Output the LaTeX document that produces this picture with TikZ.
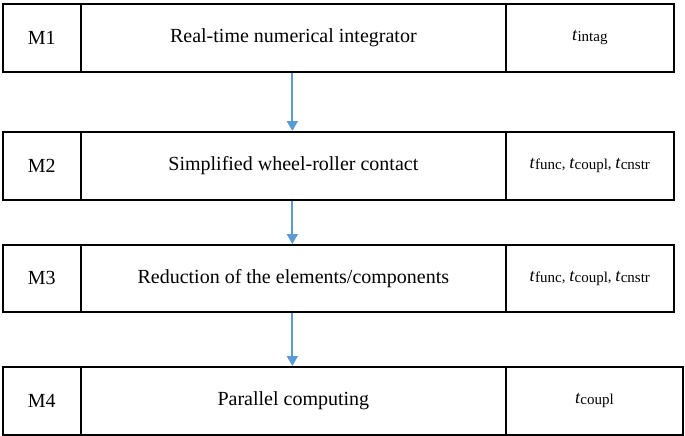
\documentclass[tikz,border=0pt]{standalone}
\usepackage{fontspec}
\setmainfont{Liberation Serif}
\usetikzlibrary{arrows.meta}
\definecolor{arrowblue}{RGB}{91,155,213}
\newcommand{\tsub}[1]{{\fontsize{18}{20}\selectfont\textit{t}}{\fontsize{15}{17}\selectfont\raisebox{-1pt}{#1}}}
\begin{document}
\begin{tikzpicture}[x=1pt,y=-1pt,
  cell/.style={draw=black, line width=1.7pt, anchor=north west, inner sep=0pt, font=\fontsize{20}{22}\selectfont},
  tcell/.style={cell, font=\fontsize{15}{17}\selectfont},
  flow/.style={draw=arrowblue, line width=1.8pt, -{Triangle[length=10pt,width=11pt]}}]
\useasboundingbox (0,0) rectangle (685,436);
% row M1
\node[cell, minimum width=78pt, minimum height=68pt] (l1) at (2,3) {M1};
\node[cell, minimum width=425pt, minimum height=68pt] (d1) at (80,3) {Real-time numerical integrator};
\node[tcell, minimum width=168pt, minimum height=68pt] (t1) at (505,3) {\tsub{intag}};
% row M2
\node[cell, minimum width=78pt, minimum height=68pt] (l2) at (2,131) {M2};
\node[cell, minimum width=425pt, minimum height=68pt] (d2) at (80,131) {Simplified wheel-roller contact};
\node[tcell, minimum width=168pt, minimum height=68pt] (t2) at (505,131) {\tsub{func},\ \tsub{coupl},\ \tsub{cnstr}};
% row M3
\node[cell, minimum width=78pt, minimum height=67pt] (l3) at (2,244) {M3};
\node[cell, minimum width=425pt, minimum height=67pt] (d3) at (80,244) {Reduction of the elements/components};
\node[tcell, minimum width=168pt, minimum height=67pt] (t3) at (505,244) {\tsub{func},\ \tsub{coupl},\ \tsub{cnstr}};
% row M4
\node[cell, minimum width=78pt, minimum height=68pt] (l4) at (2,366) {M4};
\node[cell, minimum width=425pt, minimum height=68pt] (d4) at (80,366) {Parallel computing};
\node[tcell, minimum width=177pt, minimum height=68pt] (t4) at (505,366) {\tsub{coupl}};
% arrows
\draw[flow] ([xshift=-1pt]d1.south) -- ([xshift=-1pt]d2.north);
\draw[flow] ([xshift=-1pt]d2.south) -- ([xshift=-1pt]d3.north);
\draw[flow] ([xshift=-1pt]d3.south) -- ([xshift=-1pt]d4.north);
\end{tikzpicture}
\end{document}
